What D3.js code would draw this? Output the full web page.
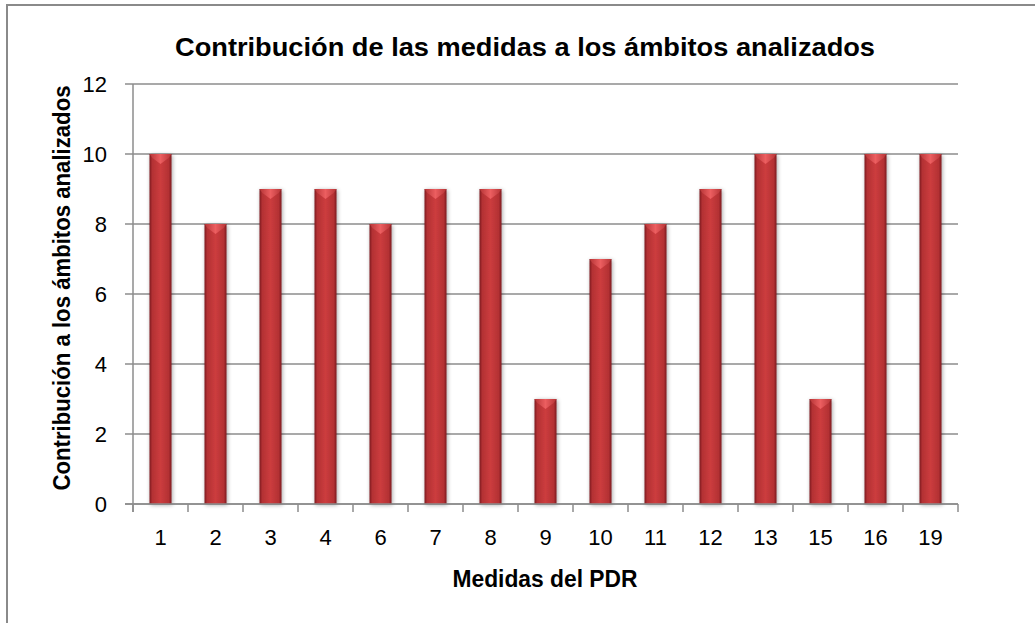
<!DOCTYPE html>
<html>
<head>
<meta charset="utf-8">
<script src="https://cdn.jsdelivr.net/npm/d3@7"></script>
<style>
  body { margin: 0; background: #fff; }
  svg { display: block; font-family: "Liberation Sans", Arial, sans-serif; }
</style>
</head>
<body>
<svg id="chart" width="1035" height="623"></svg>
<script>
// datos del grafico
const medidas = ["1", "2", "3", "4", "6", "7", "8", "9", "10", "11", "12", "13", "15", "16", "19"];
const contribucion = [10, 8, 9, 9, 8, 9, 9, 3, 7, 8, 9, 10, 3, 10, 10];
const yTicks = [0, 2, 4, 6, 8, 10, 12];

const titulo = "Contribución de las medidas a los ámbitos analizados";
const tituloX = "Medidas del PDR";
const tituloY = "Contribución a los ámbitos analizados";

const svg = d3.select('#chart');

// marco exterior
svg.append('rect')
    .attr('x', 7).attr('y', 5)
    .attr('width', 1040).attr('height', 640)
    .attr('fill', 'none')
    .attr('stroke', '#8a8a8a')
    .attr('stroke-width', 2);

const plot = { left: 133, right: 958, top: 84, bottom: 504 };

const x = d3.scaleBand()
    .domain(medidas)
    .range([plot.left, plot.right])
    .paddingInner(0.6)
    .paddingOuter(0.3);

const y = d3.scaleLinear()
    .domain([0, 12])
    .range([plot.bottom, plot.top]);

// degradados de las barras
const defs = svg.append('defs');
const grad = defs.append('linearGradient').attr('id', 'barGrad')
    .attr('x1', '0%').attr('x2', '100%').attr('y1', '0%').attr('y2', '0%');
[[0, '#7a1b1d'], [0.12, '#b33133'], [0.5, '#cc3c3e'], [0.88, '#b33133'], [1, '#7a1b1d']]
    .forEach(s => grad.append('stop').attr('offset', s[0]).attr('stop-color', s[1]));
const topGrad = defs.append('linearGradient').attr('id', 'topGrad')
    .attr('x1', '0%').attr('x2', '100%').attr('y1', '0%').attr('y2', '0%');
[[0, '#b53436'], [0.5, '#ec5e60'], [1, '#b53436']]
    .forEach(s => topGrad.append('stop').attr('offset', s[0]).attr('stop-color', s[1]));
const shadow = defs.append('filter').attr('id', 'shadow')
    .attr('x', '-30%').attr('y', '-5%').attr('width', '160%').attr('height', '115%');
shadow.append('feGaussianBlur').attr('in', 'SourceAlpha').attr('stdDeviation', 2);
shadow.append('feOffset').attr('dx', 1).attr('dy', 1).attr('result', 'b');
shadow.append('feComponentTransfer').append('feFuncA').attr('type', 'linear').attr('slope', 0.35);
const merge = shadow.append('feMerge');
merge.append('feMergeNode');
merge.append('feMergeNode').attr('in', 'SourceGraphic');

// lineas de division horizontales
svg.append('g')
    .selectAll('line')
    .data(yTicks)
    .enter()
    .append('line')
    .attr('x1', plot.left - 8)
    .attr('x2', plot.right)
    .attr('y1', d => y(d))
    .attr('y2', d => y(d))
    .attr('stroke', '#8c8c8c')
    .attr('stroke-width', 1.5);

// eje Y
svg.append('line')
    .attr('x1', plot.left).attr('x2', plot.left)
    .attr('y1', plot.top).attr('y2', plot.bottom + 8)
    .attr('stroke', '#8c8c8c').attr('stroke-width', 1.5);

svg.append('g')
    .selectAll('text')
    .data(yTicks)
    .enter()
    .append('text')
    .attr('x', 107)
    .attr('y', d => y(d))
    .attr('dy', '0.36em')
    .attr('text-anchor', 'end')
    .attr('font-size', 22)
    .attr('fill', '#000')
    .text(d => d);

// barras
const bars = svg.append('g').selectAll('g.bar')
    .data(medidas.map((m, i) => ({ m: m, v: contribucion[i] })))
    .enter()
    .append('g')
    .attr('class', 'bar')
    .attr('filter', 'url(#shadow)');

bars.append('rect')
    .attr('x', d => x(d.m))
    .attr('y', d => y(d.v))
    .attr('width', x.bandwidth())
    .attr('height', d => y(0) - y(d.v))
    .attr('fill', 'url(#barGrad)');

bars.append('path')
    .attr('d', d => {
        const x0 = x(d.m), w = x.bandwidth(), t = y(d.v);
        return `M${x0},${t} L${x0 + w},${t} L${x0 + w - 3},${t + 4} L${x0 + w / 2},${t + 10} L${x0 + 3},${t + 4} Z`;
    })
    .attr('fill', 'url(#topGrad)');

// eje X
svg.append('line')
    .attr('x1', plot.left - 8).attr('x2', plot.right)
    .attr('y1', plot.bottom).attr('y2', plot.bottom)
    .attr('stroke', '#8c8c8c').attr('stroke-width', 1.5);

const step = x.step();
svg.append('g')
    .selectAll('line')
    .data(d3.range(medidas.length + 1))
    .enter()
    .append('line')
    .attr('x1', i => plot.left + i * step)
    .attr('x2', i => plot.left + i * step)
    .attr('y1', plot.bottom)
    .attr('y2', plot.bottom + 8)
    .attr('stroke', '#8c8c8c').attr('stroke-width', 1.5);

svg.append('g')
    .selectAll('text')
    .data(medidas)
    .enter()
    .append('text')
    .attr('x', d => x(d) + x.bandwidth() / 2)
    .attr('y', 545)
    .attr('text-anchor', 'middle')
    .attr('font-size', 22)
    .attr('fill', '#000')
    .text(d => d);

// titulos
svg.append('text')
    .attr('x', 525).attr('y', 56)
    .attr('text-anchor', 'middle')
    .attr('font-size', 26.5)
    .attr('font-weight', 'bold')
    .attr('textLength', 700)
    .attr('lengthAdjust', 'spacingAndGlyphs')
    .text(titulo);

svg.append('text')
    .attr('x', 545).attr('y', 587)
    .attr('text-anchor', 'middle')
    .attr('font-size', 23.5)
    .attr('font-weight', 'bold')
    .attr('textLength', 185)
    .attr('lengthAdjust', 'spacingAndGlyphs')
    .text(tituloX);

svg.append('text')
    .attr('transform', 'translate(70,288) rotate(-90)')
    .attr('text-anchor', 'middle')
    .attr('font-size', 23.5)
    .attr('font-weight', 'bold')
    .attr('textLength', 405)
    .attr('lengthAdjust', 'spacingAndGlyphs')
    .text(tituloY);
</script>
</body>
</html>
